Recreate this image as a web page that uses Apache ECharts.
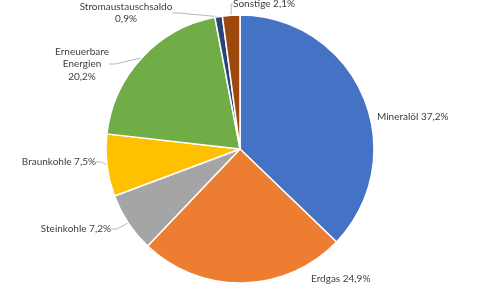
<!DOCTYPE html>
<html><head><meta charset="utf-8">
<script src="https://cdn.jsdelivr.net/npm/echarts@6/dist/echarts.min.js"></script>
<style>html,body{margin:0;padding:0;background:#fff}#c{width:480px;height:300px}</style>
</head><body><div id="c"></div>
<script>
const categories = ['Mineralöl','Erdgas','Steinkohle','Braunkohle','Erneuerbare Energien','Stromaustauschsaldo','Sonstige'];
const values = [37.2, 24.9, 7.2, 7.5, 20.2, 0.9, 2.1];
const labelTexts = ['Mineralöl 37,2%','Erdgas 24,9%','Steinkohle 7,2%','Braunkohle 7,5%','Erneuerbare\nEnergien\n20,2%','Stromaustauschsaldo\n0,9%','Sonstige 2,1%'];
const colors = ['#4472C4','#ED7D31','#A5A5A5','#FFC000','#70AD47','#264478','#9E480E'];
const showLines = [false, false, true, true, true, true, true];

const layouts = [
  {x: 377, y: 117, align: 'left', verticalAlign: 'middle'},
  {x: 311, y: 279, align: 'left', verticalAlign: 'middle'},
  {x: 111, y: 229, align: 'right', verticalAlign: 'middle'},
  {x: 96, y: 162, align: 'right', verticalAlign: 'middle'},
  {x: 82, y: 64, align: 'center', verticalAlign: 'middle'},
  {x: 126, y: 13, align: 'center', verticalAlign: 'middle'},
  {x: 233, y: 4, align: 'left', verticalAlign: 'middle'}
];

const chart = echarts.init(document.getElementById('c'), null, {renderer: 'canvas'});
chart.setOption({
  animation: false,
  series: [{
    type: 'pie',
    center: [240, 149],
    radius: 134,
    startAngle: 90,
    clockwise: true,
    data: categories.map((n, i) => ({
      name: n, value: values[i],
      itemStyle: {color: colors[i]},
      labelLine: {show: showLines[i]}
    })),
    itemStyle: {borderColor: '#fff', borderWidth: 1.5},
    label: {
      show: true,
      formatter: p => labelTexts[p.dataIndex],
      color: '#404040',
      fontFamily: 'Lato',
      fontSize: 10,
      lineHeight: 12.5
    },
    labelLine: {length: 8, length2: 6, lineStyle: {color: '#a6a6a6', width: 0.8}},
    labelLayout: p => layouts[p.dataIndex]
  }]
});
</script></body></html>
